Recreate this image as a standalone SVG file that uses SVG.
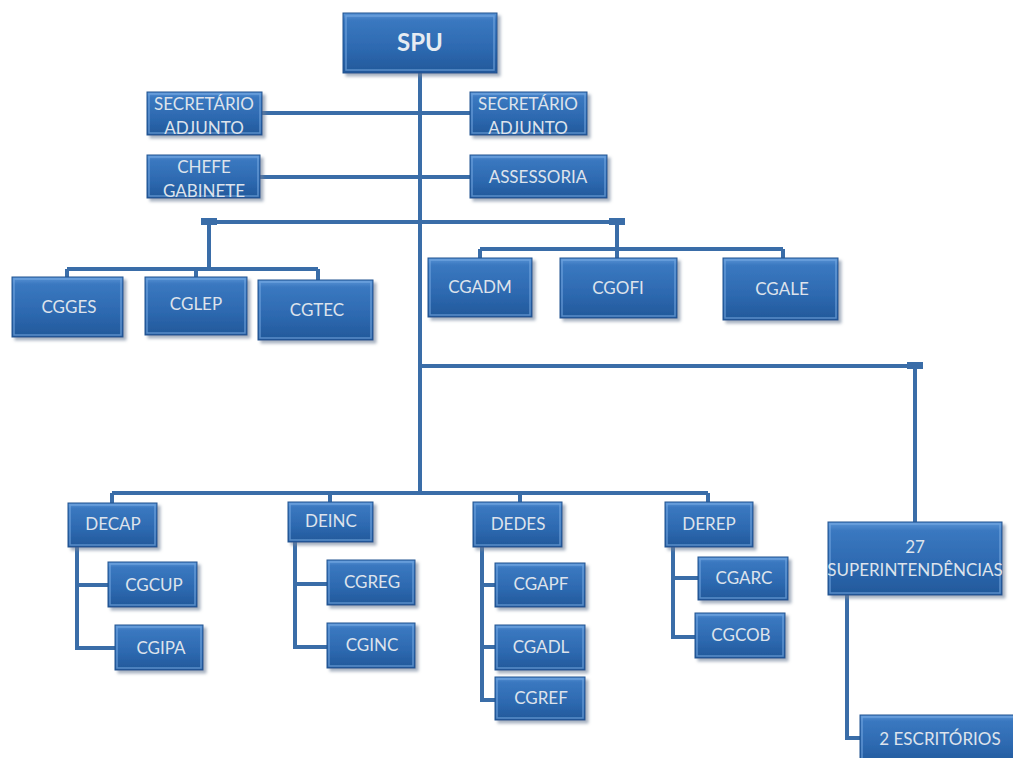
<svg xmlns="http://www.w3.org/2000/svg" width="1013" height="758" viewBox="0 0 1013 758">
<defs>
<linearGradient id="g" x1="0" y1="0" x2="0" y2="1">
<stop offset="0" stop-color="#5a94d6"/>
<stop offset="0.12" stop-color="#3a78c0"/>
<stop offset="0.6" stop-color="#2d69b0"/>
<stop offset="1" stop-color="#22589a"/>
</linearGradient>
<filter id="sh" x="-10%" y="-10%" width="130%" height="140%">
<feDropShadow dx="3" dy="3" stdDeviation="1.5" flood-color="#6d7f96" flood-opacity="0.6"/>
</filter>
</defs>
<style>
.b{fill:url(#g);stroke:#1f5290;stroke-width:1;filter:url(#sh)}
.hl{fill:none;stroke:#7fb0e6;stroke-width:1.5;opacity:0.6}
.t{font-family:Lato,"Open Sans",sans-serif;font-size:17px;fill:#dde3ec;text-anchor:middle}
.tb{font-family:Lato,"Open Sans",sans-serif;font-size:24px;font-weight:bold;fill:#e6ebf2;text-anchor:middle}
.c{fill:none;stroke:#3a6da8;stroke-width:4}
.k{fill:#3a6da8}
</style>
<rect width="1013" height="758" fill="#ffffff"/>
<g id="connectors">
<path class="c" d="M420 73V493"/>
<path class="c" d="M262 113H470"/>
<path class="c" d="M260 177H470"/>
<path class="c" d="M209 222H617"/>
<path class="c" d="M209 222V269M67 269H318M67 269V277M196 269V277M318 269V280"/>
<path class="c" d="M617 222V249M480 249H783M480 249V258M617 249V258M783 249V258"/>
<path class="c" d="M420 366H915V522"/>
<path class="c" d="M112 493H708M112 493V503M330 493V502M520 493V502M708 493V502"/>
<path class="c" d="M77 547V648H115M77 585H108"/>
<path class="c" d="M295 542V647H327M295 584H327"/>
<path class="c" d="M482 547V700H495M482 585H495M482 647H495"/>
<path class="c" d="M673 547V637H695M673 578H698"/>
<path class="c" d="M847 595V738H860"/>
<rect class="k" x="201" y="218" width="16" height="7"/>
<rect class="k" x="609" y="218" width="16" height="7"/>
<rect class="k" x="907" y="362" width="16" height="7"/>
</g>
<g id="spu"><rect class="b" x="343" y="13" width="154" height="60"/><rect class="hl" x="346" y="16" width="148" height="54"/><text class="tb" x="420" y="51">SPU</text></g>
<g id="sec1"><rect class="b" x="147" y="92" width="115" height="43"/><rect class="hl" x="149" y="94" width="111" height="39"/><text class="t" x="204" y="110">SECRETÁRIO</text><text class="t" x="204" y="134">ADJUNTO</text></g>
<g id="sec2"><rect class="b" x="470" y="92" width="117" height="43"/><rect class="hl" x="472" y="94" width="113" height="39"/><text class="t" x="528" y="110">SECRETÁRIO</text><text class="t" x="528" y="134">ADJUNTO</text></g>
<g id="chefe"><rect class="b" x="147" y="155" width="113" height="43"/><rect class="hl" x="149" y="157" width="109" height="39"/><text class="t" x="204" y="173">CHEFE</text><text class="t" x="204" y="197">GABINETE</text></g>
<g id="assessoria"><rect class="b" x="470" y="155" width="137" height="43"/><rect class="hl" x="472" y="157" width="133" height="39"/><text class="t" x="538" y="183">ASSESSORIA</text></g>
<g id="cgges"><rect class="b" x="12" y="277" width="111" height="60"/><rect class="hl" x="14" y="279" width="107" height="56"/><text class="t" x="69" y="313">CGGES</text></g>
<g id="cglep"><rect class="b" x="145" y="277" width="102" height="58"/><rect class="hl" x="147" y="279" width="98" height="54"/><text class="t" x="196" y="310">CGLEP</text></g>
<g id="cgtec"><rect class="b" x="258" y="280" width="115" height="60"/><rect class="hl" x="260" y="282" width="111" height="56"/><text class="t" x="317" y="316">CGTEC</text></g>
<g id="cgadm"><rect class="b" x="428" y="258" width="104" height="59"/><rect class="hl" x="430" y="260" width="100" height="55"/><text class="t" x="480" y="293">CGADM</text></g>
<g id="cgofi"><rect class="b" x="560" y="258" width="117" height="60"/><rect class="hl" x="562" y="260" width="113" height="56"/><text class="t" x="618" y="294">CGOFI</text></g>
<g id="cgale"><rect class="b" x="723" y="258" width="115" height="62"/><rect class="hl" x="725" y="260" width="111" height="58"/><text class="t" x="782" y="295">CGALE</text></g>
<g id="decap"><rect class="b" x="68" y="503" width="89" height="44"/><rect class="hl" x="70" y="505" width="85" height="40"/><text class="t" x="113" y="530">DECAP</text></g>
<g id="cgcup"><rect class="b" x="108" y="562" width="89" height="45"/><rect class="hl" x="110" y="564" width="85" height="41"/><text class="t" x="154" y="591">CGCUP</text></g>
<g id="cgipa"><rect class="b" x="115" y="625" width="88" height="45"/><rect class="hl" x="117" y="627" width="84" height="41"/><text class="t" x="161" y="654">CGIPA</text></g>
<g id="deinc"><rect class="b" x="288" y="502" width="85" height="40"/><rect class="hl" x="290" y="504" width="81" height="36"/><text class="t" x="331" y="527">DEINC</text></g>
<g id="cgreg"><rect class="b" x="327" y="560" width="88" height="45"/><rect class="hl" x="329" y="562" width="84" height="41"/><text class="t" x="372" y="588">CGREG</text></g>
<g id="cginc"><rect class="b" x="327" y="623" width="88" height="45"/><rect class="hl" x="329" y="625" width="84" height="41"/><text class="t" x="372" y="651">CGINC</text></g>
<g id="dedes"><rect class="b" x="473" y="502" width="89" height="45"/><rect class="hl" x="475" y="504" width="85" height="41"/><text class="t" x="518" y="530">DEDES</text></g>
<g id="cgapf"><rect class="b" x="495" y="563" width="90" height="44"/><rect class="hl" x="497" y="565" width="86" height="40"/><text class="t" x="541" y="590">CGAPF</text></g>
<g id="cgadl"><rect class="b" x="495" y="625" width="90" height="45"/><rect class="hl" x="497" y="627" width="86" height="41"/><text class="t" x="541" y="653">CGADL</text></g>
<g id="cgref"><rect class="b" x="495" y="677" width="90" height="43"/><rect class="hl" x="497" y="679" width="86" height="39"/><text class="t" x="541" y="704">CGREF</text></g>
<g id="derep"><rect class="b" x="665" y="502" width="88" height="45"/><rect class="hl" x="667" y="504" width="84" height="41"/><text class="t" x="709" y="530">DEREP</text></g>
<g id="cgarc"><rect class="b" x="698" y="557" width="90" height="43"/><rect class="hl" x="700" y="559" width="86" height="39"/><text class="t" x="744" y="584">CGARC</text></g>
<g id="cgcob"><rect class="b" x="695" y="613" width="90" height="45"/><rect class="hl" x="697" y="615" width="86" height="41"/><text class="t" x="741" y="641">CGCOB</text></g>
<g id="super"><rect class="b" x="828" y="522" width="174" height="73"/><rect class="hl" x="830" y="524" width="170" height="69"/><text class="t" x="915" y="553">27</text><text class="t" x="915" y="576">SUPERINTENDÊNCIAS</text></g>
<g id="escritorios"><rect class="b" x="860" y="715" width="160" height="50"/><rect class="hl" x="862" y="717" width="156" height="46"/><text class="t" x="940" y="745">2 ESCRITÓRIOS</text></g>
</svg>
